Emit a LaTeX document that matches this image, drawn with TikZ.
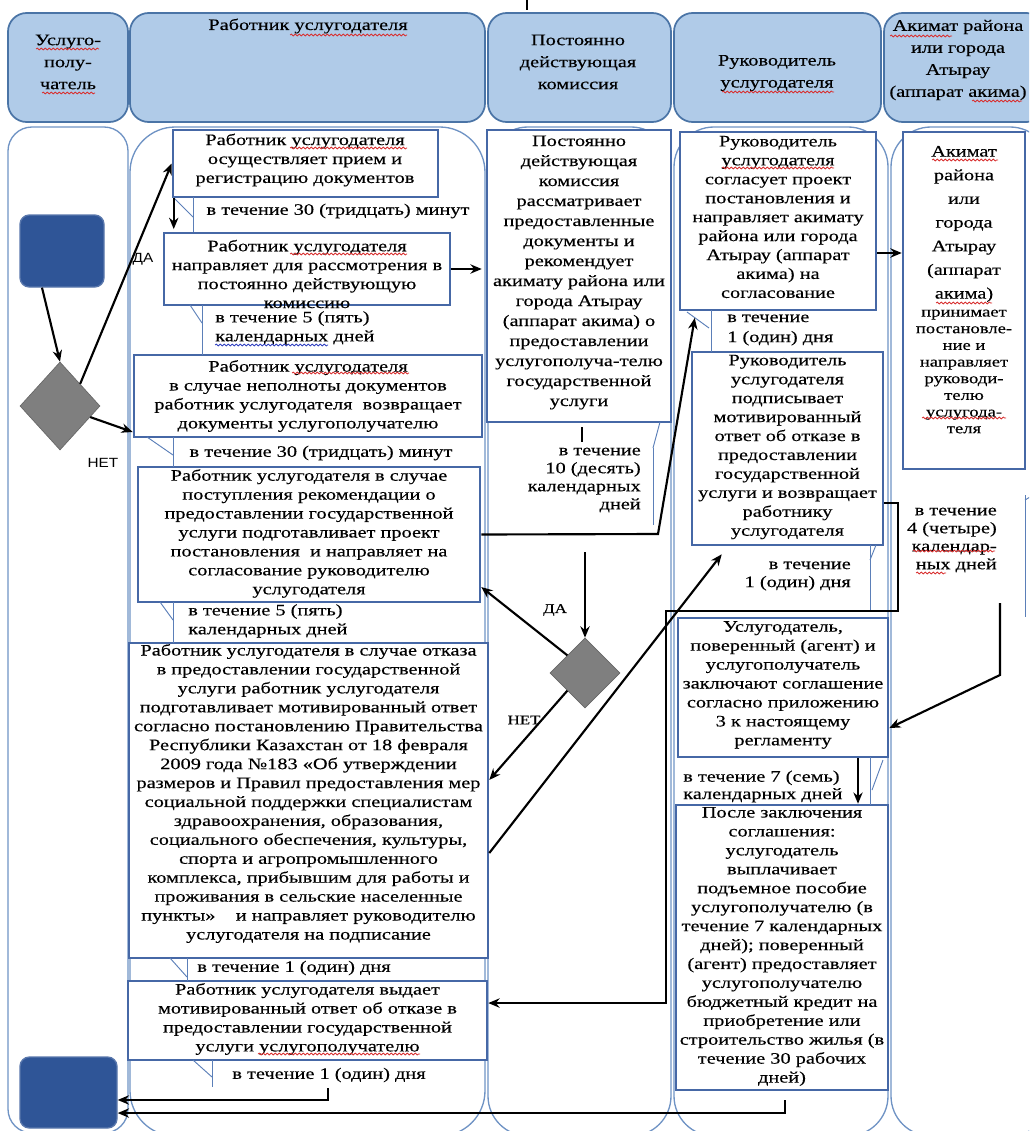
\documentclass[tikz,border=0pt]{standalone}
\usepackage{fontspec}
\setmainfont[FakeStretch=1.27,FakeBold=0.3]{Liberation Serif}
\newfontfamily\sansf[FakeStretch=1.15]{Liberation Sans}
\usetikzlibrary{arrows.meta,fit,shapes.geometric,calc,decorations.pathmorphing}
\definecolor{hdrfill}{HTML}{B0CBE8}
\definecolor{hdrline}{HTML}{4A74A6}
\definecolor{laneline}{HTML}{6F93C4}
\definecolor{boxline}{HTML}{4668A6}
\definecolor{startc}{HTML}{2F5597}
\definecolor{diac}{HTML}{7F7F7F}
\definecolor{callc}{HTML}{5B7FB8}
\definecolor{wavred}{HTML}{D83030}
\definecolor{wavblue}{HTML}{3040C0}
\begin{document}
\begin{tikzpicture}[x=0.75pt,y=-0.75pt,
  hdr/.style={draw=hdrline,fill=hdrfill,line width=1.3pt,rounded corners=14pt,inner sep=0pt},
  lane/.style={draw=laneline,line width=1pt},
  box/.style={draw=boxline,line width=1.9pt,fill=white,inner sep=0pt},
  txt/.style={font=\fontsize{12pt}{14.2pt}\selectfont,align=center,inner sep=0pt},
  htxt/.style={font=\fontsize{12pt}{16.5pt}\selectfont,align=center,inner sep=0pt},
  arr/.style={draw=black,line width=1.6pt,-{Stealth[length=8.5pt,width=7pt]}},
  call/.style={draw=callc,line width=0.7pt},
  term/.style={draw=startc!80!white,fill=startc,rounded corners=7pt,line width=1pt,inner sep=0pt},
  dia/.style={diamond,fill=diac,draw=diac!80!black,line width=0.5pt,inner sep=0pt},
  lbl/.style={font=\sansf\fontsize{10pt}{12pt}\selectfont,inner sep=0pt},
  slbl/.style={font=\fontsize{10pt}{12pt}\selectfont,inner sep=0pt},
  wav/.style={draw=wavred,line width=0.6pt,decorate,decoration={snake,amplitude=0.7pt,segment length=3pt}},
  wavb/.style={draw=wavblue,line width=0.6pt,decorate,decoration={snake,amplitude=0.7pt,segment length=3pt}}
]
\useasboundingbox (0,0) rectangle (1029,1131);
\clip (0,0) rectangle (1029,1131);

% headers
\node[hdr, fit={(8,13) (128,122)}] (h1) {};
\node[hdr, fit={(130,13) (485,122)}] (h2) {};
\node[hdr, fit={(488,13) (671,122)}] (h3) {};
\node[hdr, fit={(674,13) (881,122)}] (h4) {};
\node[hdr, fit={(884,13) (1045,122)}] (h5) {};
\node[htxt] (h1t) at (68,62) {Услуго-\\полу-\\чатель};
\node[htxt] (h2t) at (308,26) {Работник услугодателя};
\node[htxt] (h3t) at (578,62) {Постоянно\\действующая\\комиссия};
\node[htxt] (h4t) at (777,73) {Руководитель\\услугодателя};
\node[htxt] (h5t) at (958,60) {Акимат района\\или города\\Атырау\\(аппарат акима)};
\coordinate (k0) at (527,0);
\draw[line width=1pt] (k0) -- ++(0,10);

% lanes
\draw[lane,rounded corners=18pt] (8,127) rectangle (128,1133);
\draw[lane,rounded corners=34pt] (130,127) rectangle (485,1136);
\draw[lane,rounded corners=30pt] (488,127) rectangle (671,1136);
\draw[lane,rounded corners=30pt] (674,127) rectangle (888,1136);
\draw[lane,rounded corners=30pt] (891,127) rectangle (1050,1136);

% lane 1
\node[term, fit={(20,215) (104,287)}] (st) {};
\node[term, fit={(20,1057) (117,1128)}] (en) {};
\node[dia, minimum width=60pt, minimum height=66pt] (d1) at (60,406) {};

% lane 2 boxes
\node[box, fit={(173,130) (438,197)}] (b1) {};
\node[box, fit={(164,233) (450,305)}] (b2) {};
\node[box, fit={(134,355) (482,437)}] (b3) {};
\node[box, fit={(138,467) (480,602)}] (b4) {};
\node[box, fit={(129,643) (488,958)}] (b5) {};
\node[box, fit={(128,981) (487,1060)}] (b6) {};

% lane 3
\node[box, fit={(487,130) (671,422)}] (c1) {};
\node[dia, minimum width=52.5pt, minimum height=52.5pt] (d2) at (585,673) {};

% lane 4
\node[box, fit={(680,132) (876,310)}] (r1) {};
\node[box, fit={(692,352) (883,545)}] (r2) {};
\node[box, fit={(678,618) (888,757)}] (r3) {};
\node[box, fit={(676,805) (888,1090)}] (r4) {};

% lane 5
\node[box, fit={(903,132) (1025,469)}] (a1) {};

% callout strokes
\draw[call] (173,197) -- (193,217); \draw[call] (193,197) -- (193,232);
\draw[call] (190,305) -- (202,323); \draw[call] (202,305) -- (202,355);
\draw[call] (147,437) -- (173,455); \draw[call] (173,437) -- (173,467);
\draw[call] (160,602) -- (173,620); \draw[call] (173,602) -- (173,643);
\draw[call] (170,958) -- (187,977); \draw[call] (187,958) -- (187,981);
\draw[call] (193,1060) -- (212,1077); \draw[call] (212,1060) -- (212,1087);
\draw[call] (660,422) -- (653,448); \draw[call] (653,448) -- (653,525);
\draw[line width=0.8pt] (582,427) -- (582,442);
\draw[call] (687,312) -- (709,328); \draw[call] (711,310) -- (711,352);
\draw[call] (876,545) -- (870,560); \draw[call] (870,545) -- (870,611);
\draw[call] (883,760) -- (872,790); \draw[call] (870,757) -- (870,805);
\draw[call] (1025,495) -- (1025,617); \draw[call] (1025,500) -- (1030,497);

% texts lane 2
\node[txt] (b1t) at (305,160) {Работник услугодателя\\осуществляет прием и\\регистрацию документов};
\node[txt] (n1) at (338,211) {в течение 30 (тридцать) минут};
\node[txt] (b2t) at (307,274) {Работник услугодателя\\направляет для рассмотрения в\\постоянно действующую\\комиссию};
\node[txt,anchor=west,align=left] (n2) at (215,328) {в течение 5 (пять)\\календарных дней};
\node[txt] (b3t) at (308,396) {Работник услугодателя\\в случае неполноты документов\\работник услугодателя\ \ возвращает\\документы услугополучателю};
\node[txt] (n3) at (321,453) {в течение 30 (тридцать) минут};
\node[txt] (b4t) at (309,533.5) {Работник услугодателя в случае\\поступления рекомендации о\\предоставлении государственной\\услуги подготавливает проект\\постановления\ \ и направляет на\\согласование руководителю\\услугодателя};
\node[txt,anchor=west,align=left] (n4) at (188,621) {в течение 5 (пять)\\календарных дней};
\node[txt] (b5t) at (308.5,793.5) {Работник услугодателя в случае отказа\\в предоставлении государственной\\услуги работник услугодателя\\подготавливает мотивированный ответ\\согласно постановлению Правительства\\Республики Казахстан от 18 февраля\\2009 года №183 «Об утверждении\\размеров и Правил предоставления мер\\социальной поддержки специалистам\\здравоохранения, образования,\\социального обеспечения, культуры,\\спорта и агропромышленного\\комплекса, прибывшим для работы и\\проживания в сельские населенные\\пункты»\ \ \ \ и направляет руководителю\\услугодателя на подписание};
\node[txt] (n5) at (294,968) {в течение 1 (один) дня};
\node[txt] (b6t) at (307.5,1019) {Работник услугодателя выдает\\мотивированный ответ об отказе в\\предоставлении государственной\\услуги услугополучателю};
\node[txt] (n6) at (329,1075) {в течение 1 (один) дня};

% texts lane 3
\node[txt,font=\fontsize{12pt}{15pt}\selectfont] (c1t) at (579,272.5) {Постоянно\\действующая\\комиссия\\рассматривает\\предоставленные\\документы и\\рекомендует\\акимату района или\\города Атырау\\(аппарат акима) о\\предоставлении\\услугополуча-телю\\государственной\\услуги};
\node[txt,anchor=east,align=right,font=\fontsize{12pt}{13.5pt}\selectfont] (nc) at (641,480) {в течение\\10 (десять)\\календарных\\дней};

% texts lane 4
\node[txt] (r1t) at (778,217) {Руководитель\\услугодателя\\согласует проект\\постановления и\\направляет акимату\\района или города\\Атырау (аппарат\\акима) на\\согласование};
\node[txt,anchor=west,align=left,font=\fontsize{12pt}{15pt}\selectfont] (nr1) at (727,330) {в течение\\1 (один) дня};
\node[txt] (r2t) at (787.5,447) {Руководитель\\услугодателя\\подписывает\\мотивированный\\ответ об отказе в\\предоставлении\\государственной\\услуги и возвращает\\работнику\\услугодателя};
\node[txt,anchor=east,align=right,font=\fontsize{12pt}{13.5pt}\selectfont] (nr2) at (851,576) {в течение\\1 (один) дня};
\node[txt] (r3t) at (783,685) {Услугодатель,\\поверенный (агент) и\\услугополучатель\\заключают соглашение\\согласно приложению\\3 к настоящему\\регламенту};
\node[txt,anchor=west,align=left,font=\fontsize{12pt}{13pt}\selectfont] (nr3) at (683,786.5) {в течение 7 (семь)\\календарных дней};
\node[txt] (r4t) at (782,946.5) {После заключения\\соглашения:\\услугодатель\\выплачивает\\подъемное пособие\\услугополучателю (в\\течение 7 календарных\\дней); поверенный\\(агент) предоставляет\\услугополучателю\\бюджетный кредит на\\приобретение или\\строительство жилья (в\\течение 30 рабочих\\дней)};

% texts lane 5
\node[txt,font=\fontsize{12pt}{17.75pt}\selectfont] (a1t) at (964,224) {Акимат\\района\\или\\города\\Атырау\\(аппарат\\акима)};
\node[txt,font=\fontsize{11pt}{12.5pt}\selectfont] (a1u) at (964,371.5) {принимает\\постановле-\\ние и\\направляет\\руководи-\\телю\\услугода-\\теля};
\node[txt,anchor=east,align=right,font=\fontsize{12pt}{13.5pt}\selectfont] (na) at (997,540) {в течение\\4 (четыре)\\календар-\\ных дней};

% spell-check underlines as printed
\draw[wav] (36,49) -- (99,49);
\draw[wav] (42,93) -- (95,93);
\draw[wav] (290,35) -- (407,35);
\draw[wav] (722,92) -- (834,92);
\draw[wav] (890,36) -- (952,36);
\draw[wav] (972,101) -- (1022,101);
\draw[wav] (290,148) -- (407,148);
\draw[wav] (290,254) -- (407,254);
\draw[wav] (292,373) -- (409,373);
\draw[wav] (722,168) -- (834,168);
\draw[wav] (932,160) -- (998,160);
\draw[wav] (936,303) -- (992,303);
\draw[wav] (922,418) -- (1006,418);
\draw[wav] (258,1054) -- (420,1054);
\draw[wav] (913,551) -- (995,551);
\draw[wav] (916,573) -- (946,573);
\draw[wavb] (215,345) -- (328,345);

% labels
\node[lbl] (lda1) at (143,259) {ДА};
\node[lbl] (lnet1) at (103,463) {НЕТ};
\node[slbl] (lda2) at (555,610) {ДА};
\node[slbl] (lnet2) at (524,720) {НЕТ};

% connectors
\draw[arr] ([xshift=-15pt]st.south) -- (d1.north);
\draw[arr] (d1.north east) -- (b1.west);
\draw[arr] ($(d1.east)!0.25!(d1.south)$) -- ([yshift=-27pt]b3.west);
\draw[arr,shorten >=2pt] ([xshift=1.5pt]b1.south west) -- ([xshift=1.5pt]b1.south west |- b2.north);
\draw[arr,shorten >=3pt] (b2.east) -- (b2.east -| c1.west);
\coordinate (k1) at (658,534);
\draw[arr] (b4.east) -- (k1) -- ([xshift=12pt,yshift=-5pt]r1.south west);
\coordinate (k2) at (585,552);
\draw[arr] (k2) -- (d2.north);
\draw[arr] (d2.north west) -- ([yshift=-39.4pt]b4.east);
\draw[arr] (d2.south west) -- ([yshift=15.4pt]b5.east);
\draw[arr] ([yshift=-39.4pt]b5.east) -- ([xshift=23.25pt,yshift=-6pt]r2.south west);
\draw[arr] ([yshift=-24pt]r1.east) -- ([yshift=-24pt]r1.east -| a1.west);
\coordinate (k4) at (898,611);
\coordinate (k5) at (666,611);
\draw[arr] ([yshift=-40.9pt]r2.east) -| (k4) -- (k5) |- ([yshift=13.1pt]b6.east);
\coordinate (k6) at (1000,603);
\coordinate (k7) at (1000,675);
\draw[arr] (k6) -- (k7) -- ([yshift=-30.4pt]r3.east);
\draw[arr,line width=1pt] ([xshift=56.25pt]r3.south) -- ([xshift=56.25pt]r3.south |- r4.north);
\coordinate (k8) at (328,1088);
\draw[arr] (k8) |- ([yshift=-5.6pt]en.east);
\coordinate (k9) at (785,1100);
\draw[arr] (k9) |- ([yshift=-15.4pt]en.east);
\end{tikzpicture}
\end{document}
